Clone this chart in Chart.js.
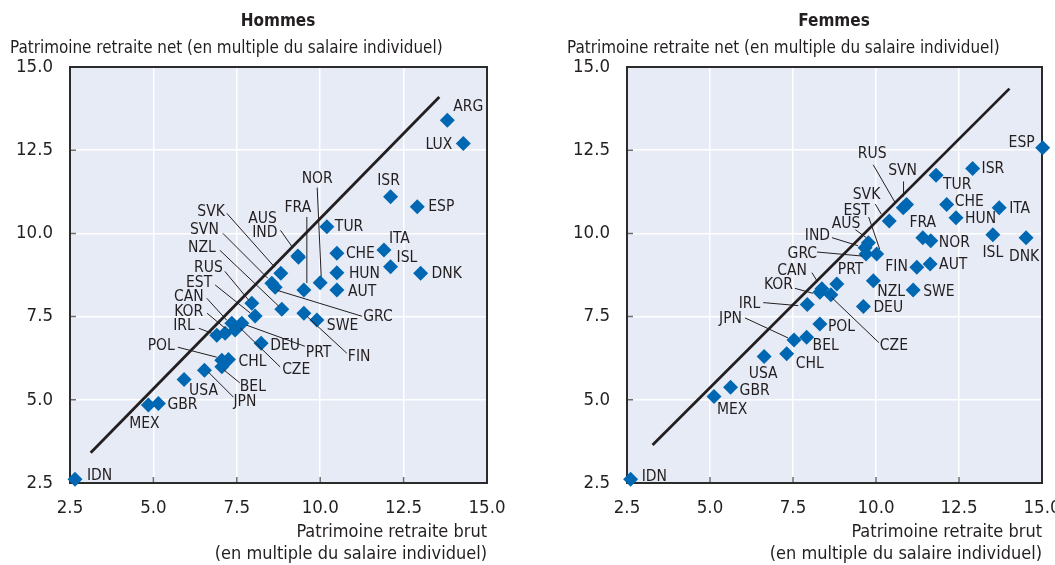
<!DOCTYPE html>
<html>
<head>
<meta charset="utf-8">
<script src="https://cdn.jsdelivr.net/npm/chart.js@4.4.1/dist/chart.umd.min.js"></script>
<style>
  body { margin: 0; background: #fff; }
  #wrap { display: flex; width: 1055px; height: 565px; }
</style>
</head>
<body>
<div id="wrap">
  <canvas id="hommes" width="527" height="565"></canvas>
  <canvas id="femmes" width="528" height="565"></canvas>
</div>
<script>
const countries = ['IDN','MEX','GBR','USA','JPN','POL','CHL','BEL','IRL','KOR','CAN','CZE','PRT','EST','RUS','DEU','NZL','SVN','GRC','SVK','AUS','IND','FRA','NOR','FIN','SWE','TUR','CHE','HUN','AUT','ISR','ESP','ITA','ISL','DNK','ARG','LUX'];

// Hommes : brut (x) / net (y)
const hommesBrut = [2.65,4.85,5.15,5.92,6.53,7.05,7.25,7.05,6.9,7.15,7.35,7.45,7.65,8.05,7.95,8.23,8.85,8.55,8.65,8.82,9.33,9.35,9.51,10.0,9.51,9.9,10.2,10.5,10.5,10.5,12.11,12.91,11.91,12.11,13.01,13.81,14.29];
const hommesNet  = [2.61,4.84,4.89,5.61,5.89,6.19,6.21,5.99,6.94,7.0,7.3,7.1,7.3,7.52,7.9,6.7,7.72,8.5,8.38,8.8,9.32,9.28,8.3,8.52,7.6,7.4,10.2,9.4,8.82,8.3,11.1,10.8,9.5,9.0,8.8,13.4,12.7];

// Femmes : brut (x) / net (y)
const femmesBrut = [2.61,5.12,5.62,6.63,7.53,8.31,7.31,7.91,7.93,8.31,8.37,8.64,8.82,10.02,10.82,9.62,9.92,10.92,9.7,10.4,9.77,9.67,11.41,11.65,11.23,11.12,11.81,12.13,12.41,11.63,12.91,15.02,13.71,13.52,14.52,null,null];
const femmesNet  = [2.61,5.1,5.38,6.3,6.8,7.28,6.38,6.88,7.86,8.23,8.34,8.16,8.48,9.38,10.77,7.8,8.58,10.87,9.38,10.37,9.72,9.57,9.87,9.78,8.98,8.3,11.75,10.87,10.47,9.08,11.95,12.57,10.77,9.96,9.87,null,null];

// droites d'ajustement (extrémités)
const hommesFitX = [3.12, 13.57];
const hommesFitY = [3.41, 14.1];
const femmesFitX = [3.27, 14.02];
const femmesFitY = [3.64, 14.35];

const tickValues = [2.5, 5.0, 7.5, 10.0, 12.5, 15.0];

const FONT = '"Liberation Sans Narrow", "Arial Narrow", "DejaVu Sans Condensed", sans-serif';
const BLUE = '#0068b3';
const PLOT_BG = '#e7ebf6';

// placement des étiquettes : [dx, dy, align, x1, y1, x2, y2] (relatif au point)
const hommesLabels = {
  ARG: [6, -13, 'left'], LUX: [-11, 1, 'right'], ISR: [-2, -16, 'center'],
  ESP: [11, 0, 'left'], ITA: [5, -11, 'left'], ISL: [6, -9, 'left'], DNK: [11, 1, 'left'],
  TUR: [8, 0, 'left'], CHE: [9, 1, 'left'], HUN: [12, 1, 'left'], AUT: [11, 2, 'left'],
  NOR: [-3, -104, 'center', -3, -95, 1, -6], FRA: [-6, -82, 'center', 3, -73, 3, -7],
  AUS: [-21, -37, 'right'], IND: [-21, -24, 'right', -18, -27, -6, -10],
  SVK: [-56, -61, 'right', -54, -60, -6, -6], SVN: [-53, -53, 'right', -49, -50, -4, -5],
  NZL: [-66, -61, 'right', -62, -59, -3, -3], RUS: [-29, -35, 'right', -27, -32, -3, -3],
  EST: [-43, -33, 'right', -40, -31, -5, -3], CAN: [-28, -26, 'right', -25, -25, -5, -3],
  KOR: [-22, -21, 'right', -18, -20, 0, -5], IRL: [-22, -9, 'right', -18, -7, -5, -2],
  POL: [-47, -14, 'right', -44, -13, -5, -3], CHL: [10, 2, 'left'],
  BEL: [18, 20, 'left', 2, 3, 18, 16], JPN: [29, 32, 'left', 4, 2, 29, 27],
  USA: [5, 11, 'left'], GBR: [9, 2, 'left'], MEX: [-4, 19, 'center'], IDN: [12, -3, 'left'],
  DEU: [9, 3, 'left'], PRT: [64, 30, 'left', 5, 2, 63, 23], CZE: [47, 40, 'left', 5, -2, 45, 37],
  FIN: [44, 44, 'left', 3, 3, 43, 40], SWE: [10, 6, 'left'], GRC: [88, 30, 'left', 2, 3, 87, 29]
};
const femmesLabels = {
  ESP: [-8, -5, 'right'], ISR: [9, 0, 'left'], TUR: [7, 10, 'left'], CHE: [8, -2, 'left'],
  HUN: [9, 1, 'left'], ITA: [10, 1, 'left'], ISL: [0, 18, 'center'], DNK: [-2, 19, 'center'],
  FRA: [0, -15, 'center'], NOR: [8, 2, 'left'], AUT: [9, 1, 'left'], FIN: [-9, 0, 'right'],
  SWE: [10, 2, 'left'], NZL: [4, 11, 'left'], DEU: [10, 1, 'left'], PRT: [1, -14, 'left'],
  POL: [8, 3, 'left'], BEL: [6, 9, 'left'], CZE: [49, 51, 'left', 1, 3, 48, 48],
  CAN: [-15, -18, 'right', -10, -16, -5, -8], KOR: [-27, -7, 'right', -25, -4, -7, 1],
  IRL: [-47, -1, 'right', -44, -2, -9, 1], JPN: [-52, -21, 'right', -49, -22, -6, -2],
  CHL: [9, 10, 'left'], USA: [-1, 17, 'center'], GBR: [9, 4, 'left'], MEX: [3, 13, 'left'],
  IDN: [11, -2, 'left'], GRC: [-49, 0, 'right', -49, -2, -4, 2],
  IND: [-35, -12, 'right', -33, -10, -7, -2], AUS: [-8, -19, 'right', -13, -13, -2, -5],
  EST: [-7, -43, 'right', -8, -37, 3, -5], SVK: [-9, -26, 'right', -14, -17, -8, -7],
  RUS: [-31, -54, 'center', -30, -43, -8, -5], SVN: [-4, -33, 'center', -3, -23, -3, -8]
};

Chart.defaults.font.family = FONT;
Chart.defaults.color = '#231f20';

const framePlugin = {
  id: 'frame',
  beforeDraw(chart) {
    const { ctx, chartArea: a } = chart;
    ctx.save();
    ctx.fillStyle = PLOT_BG;
    ctx.fillRect(a.left, a.top, a.right - a.left, a.bottom - a.top);
    ctx.restore();
  },
  beforeDatasetsDraw(chart) {
    const { ctx, chartArea: a, scales } = chart;
    ctx.save();
    ctx.strokeStyle = '#6d6e70';
    ctx.lineWidth = 1.5;
    ctx.beginPath();
    tickValues.forEach(v => {
      const x = scales.x.getPixelForValue(v);
      ctx.moveTo(x, a.bottom);
      ctx.lineTo(x, a.bottom - 6);
      const y = scales.y.getPixelForValue(v);
      ctx.moveTo(a.left, y);
      ctx.lineTo(a.left + 6, y);
    });
    ctx.stroke();
    ctx.strokeStyle = '#2b2b2b';
    ctx.lineWidth = 2;
    ctx.strokeRect(a.left, a.top, a.right - a.left, a.bottom - a.top);
    ctx.restore();
  },
  afterDatasetsDraw(chart, args, opts) {
    const { ctx } = chart;
    const meta = chart.getDatasetMeta(1);
    ctx.save();
    ctx.font = '15.5px ' + FONT;
    ctx.fillStyle = '#231f20';
    ctx.strokeStyle = '#231f20';
    ctx.lineWidth = 1;
    ctx.textBaseline = 'middle';
    countries.forEach((name, i) => {
      if (opts.brut[i] == null) return;
      const p = meta.data[i];
      const pl = opts.labels[name];
      if (!pl) return;
      if (pl.length > 3) {
        ctx.beginPath();
        ctx.moveTo(p.x + pl[3], p.y + pl[4]);
        ctx.lineTo(p.x + pl[5], p.y + pl[6]);
        ctx.stroke();
      }
      ctx.textAlign = pl[2];
      ctx.fillText(name, p.x + pl[0], p.y + pl[1]);
    });
    ctx.restore();
  },
  afterDraw(chart, args, opts) {
    const { ctx } = chart;
    ctx.save();
    ctx.fillStyle = '#231f20';
    ctx.textBaseline = 'middle';
    ctx.textAlign = 'center';
    ctx.font = 'bold 17px ' + FONT;
    ctx.fillText(opts.title, opts.titleX, 22);
    ctx.textAlign = 'left';
    ctx.font = '16.9px ' + FONT;
    ctx.fillText('Patrimoine retraite net (en multiple du salaire individuel)', opts.yTitleX, 49);
    ctx.restore();
  }
};

function makeChart(id, brut, net, fitX, fitY, labels, opts) {
  const points = countries.map((c, i) => brut[i] == null ? { x: null, y: null } : { x: brut[i], y: net[i] });
  const fit = fitX.map((x, i) => ({ x: x, y: fitY[i] }));
  const axis = (extra) => Object.assign({
    type: 'linear',
    min: 2.5,
    max: 15,
    afterBuildTicks: (scale) => { scale.ticks = tickValues.map(v => ({ value: v })); },
    grid: { color: '#ffffff', lineWidth: 1.5, drawTicks: false },
    border: { display: false },
    ticks: { font: { size: 18.5 }, color: '#231f20', callback: (v) => v.toFixed(1) }
  }, extra);

  return new Chart(document.getElementById(id), {
    type: 'scatter',
    data: {
      datasets: [
        {
          data: fit,
          showLine: true,
          borderColor: '#231f20',
          borderWidth: 2.8,
          pointRadius: 0,
          order: 2
        },
        {
          data: points,
          pointStyle: 'rectRot',
          pointRadius: 7.5,
          pointBackgroundColor: BLUE,
          pointBorderWidth: 0,
          clip: false,
          order: 1
        }
      ]
    },
    options: {
      responsive: false,
      animation: false,
      layout: { padding: { left: 0, right: opts.padRight, top: 67, bottom: 0 } },
      plugins: {
        legend: { display: false },
        tooltip: { enabled: false },
        frame: { brut: brut, labels: labels, title: opts.title, titleX: opts.titleX, yTitleX: opts.yTitleX }
      },
      scales: {
        x: axis({
          afterFit: (scale) => { scale.height = 82; scale.paddingLeft = 0; scale.paddingRight = 0; },
          ticks: { font: { size: 18.5 }, color: '#231f20', padding: 14, maxRotation: 0, callback: (v) => v.toFixed(1) },
          title: {
            display: true,
            text: ['Patrimoine retraite brut', '(en multiple du salaire individuel)'],
            align: 'end',
            color: '#231f20',
            font: { size: 18, lineHeight: 1.22 },
            padding: { top: 0, bottom: 0 }
          }
        }),
        y: axis({
          afterFit: (scale) => { scale.width = opts.left; scale.paddingTop = 0; scale.paddingBottom = 0; },
          ticks: { font: { size: 18.5 }, color: '#231f20', padding: 17, callback: (v) => v.toFixed(1) }
        })
      }
    },
    plugins: [framePlugin]
  });
}

makeChart('hommes', hommesBrut, hommesNet, hommesFitX, hommesFitY, hommesLabels,
  { left: 70, padRight: 40, title: 'Hommes', titleX: 278, yTitleX: 10 });
makeChart('femmes', femmesBrut, femmesNet, femmesFitX, femmesFitY, femmesLabels,
  { left: 100, padRight: 13, title: 'Femmes', titleX: 307, yTitleX: 40 });
</script>
</body>
</html>
